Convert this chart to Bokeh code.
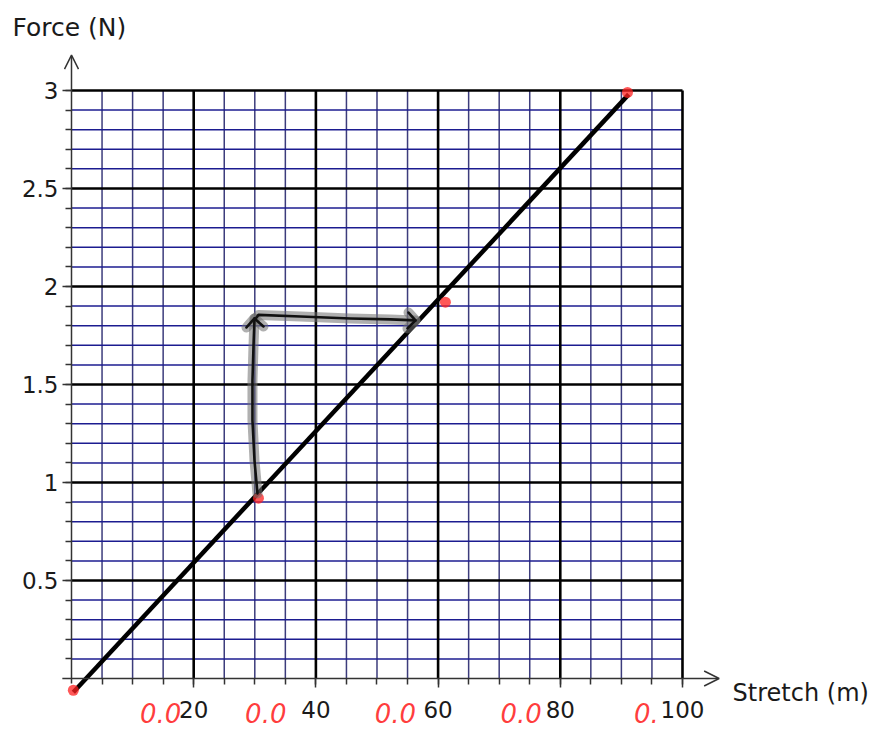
from bokeh.plotting import figure
from bokeh.models import Range1d, FixedTicker, CustomJSTickFormatter, Arrow, OpenHead, Label
from bokeh.core.properties import value
from bokeh.embed import file_html
from bokeh.resources import INLINE

# ---- data ----
x_ticks = [20, 40, 60, 80, 100]
x_tick_labels = ["20", "40", "60", "80", "100"]
x_minor = [5, 10, 15, 25, 30, 35, 45, 50, 55, 65, 70, 75, 85, 90, 95]
y_ticks = [0.5, 1, 1.5, 2, 2.5, 3]
y_tick_labels = ["0.5", "1", "1.5", "2", "2.5", "3"]
y_minor = [0.1, 0.2, 0.3, 0.4, 0.6, 0.7, 0.8, 0.9, 1.1, 1.2, 1.3, 1.4,
           1.6, 1.7, 1.8, 1.9, 2.1, 2.2, 2.3, 2.4, 2.6, 2.7, 2.8, 2.9]
x_max = 100
y_max = 3

# fitted line
line_x = [0.3, 91.2]
line_y = [-0.07, 2.98]

# red measured points
pts_x = [0.3, 30.6, 61.2, 91.0]
pts_y = [-0.06, 0.92, 1.92, 2.99]

# hand-drawn arrows (vertical up, then horizontal right)
up_x = [30.44, 29.95, 29.62, 29.62, 29.79, 29.95]
up_y = [0.944, 1.112, 1.316, 1.520, 1.699, 1.837]
up_head_x = [28.64, 29.95, 31.42]
up_head_y = [1.791, 1.837, 1.796]
right_x = [30.0, 30.6, 37.48, 45.66, 52.2, 56.3]
right_y = [1.83, 1.855, 1.847, 1.837, 1.832, 1.827]
right_head_x = [55.16, 56.3, 54.99]
right_head_y = [1.867, 1.827, 1.786]

# red handwritten notes under the x axis
note_x = [14.6, 31.8, 53.0, 73.6, 94.1]
note_text = ["0.0", "0.0", "0.0", "0.0", "0."]

# ---- figure ----
p = figure(width=875, height=731,
           x_range=Range1d(-11.62, 131.59), y_range=Range1d(-0.2704, 3.459),
           output_backend="svg", toolbar_location=None, min_border=0)
p.outline_line_color = None
p.grid.visible = False
p.background_fill_color = "white"

minor_v_col = "#3c3c7c"
minor_h_col = "#1c1c90"

# minor grid
p.segment(x0=x_minor, y0=[0] * len(x_minor), x1=x_minor, y1=[y_max] * len(x_minor),
          line_color=minor_v_col, line_width=1.5)
p.segment(x0=[0] * len(y_minor), y0=y_minor, x1=[x_max] * len(y_minor), y1=y_minor,
          line_color=minor_h_col, line_width=1.5)
# major grid
p.segment(x0=x_ticks, y0=[0] * len(x_ticks), x1=x_ticks, y1=[y_max] * len(x_ticks),
          line_color="black", line_width=2.6)
p.segment(x0=[0] * len(y_ticks), y0=y_ticks, x1=[x_max] * len(y_ticks), y1=y_ticks,
          line_color="black", line_width=2.6)

# axes lines with arrows
p.add_layout(Arrow(end=OpenHead(size=15, line_width=1.5, line_color="#333333"),
                   x_start=-1.5, y_start=0, x_end=106.0, y_end=0,
                   line_width=1.5, line_color="#333333"))
p.add_layout(Arrow(end=OpenHead(size=14, line_width=1.5, line_color="#333333"),
                   x_start=0, y_start=-0.025, x_end=0, y_end=3.18,
                   line_width=1.5, line_color="#333333"))

# axes ticks and labels
for ax, ticks, minor, labels in ((p.xaxis, x_ticks, x_minor + x_ticks, x_tick_labels),
                                 (p.yaxis, y_ticks, y_minor + y_ticks, y_tick_labels)):
    ax.fixed_location = 0
    ax.ticker = FixedTicker(ticks=ticks, minor_ticks=minor)
    ax.formatter = CustomJSTickFormatter(
        args=dict(tick_vals=ticks, tick_labs=labels),
        code="const i = tick_vals.indexOf(tick); return i >= 0 ? tick_labs[i] : '';")
    ax.axis_line_color = None
    ax.major_tick_out = 9
    ax.major_tick_in = 0
    ax.minor_tick_out = 6
    ax.minor_tick_in = 0
    ax.major_tick_line_color = "#333333"
    ax.minor_tick_line_color = "#333333"
    ax.major_tick_line_width = 1.5
    ax.minor_tick_line_width = 1.5
    ax.major_label_text_font = "DejaVu Sans"
    ax.major_label_text_font_size = "23px"
    ax.major_label_text_color = "#1a1a1a"
p.xaxis.major_label_standoff = 14
p.yaxis.major_label_standoff = 4

# fitted line
p.line(line_x, line_y, line_color="black", line_width=4.5)

# red points
p.scatter(pts_x, pts_y, size=11, fill_color="#ff2020", fill_alpha=0.75, line_color=None)

# hand-drawn arrows: grey halo + dark core
for xs, ys in ((up_x, up_y), (up_head_x, up_head_y), (right_x, right_y), (right_head_x, right_head_y)):
    p.line(xs, ys, line_color="#6f6f6f", line_alpha=0.55, line_width=10,
           line_join="round", line_cap="round")
for xs, ys in ((up_x, up_y), (up_head_x, up_head_y), (right_x, right_y), (right_head_x, right_head_y)):
    p.line(xs, ys, line_color="#111111", line_width=2.6,
           line_join="round", line_cap="round")

# handwritten notes
p.text(x=note_x, y=[-0.178] * len(note_x), text=note_text,
       text_font=value("DejaVu Sans"), text_font_size="26px", text_font_style="italic",
       text_color="#ff1a1a", text_alpha=0.85, text_align="center", text_baseline="middle")

# axis titles
p.add_layout(Label(x=-9.66, y=3.321, text="Force (N)", text_font="DejaVu Sans",
                   text_font_size="25px", text_color="#1a1a1a",
                   text_align="left", text_baseline="middle"))
p.add_layout(Label(x=108.2, y=-0.0765, text="Stretch (m)", text_font="DejaVu Sans",
                   text_font_size="24px", text_color="#1a1a1a",
                   text_align="left", text_baseline="middle"))

open("out.html", "w").write(file_html(p, INLINE))
